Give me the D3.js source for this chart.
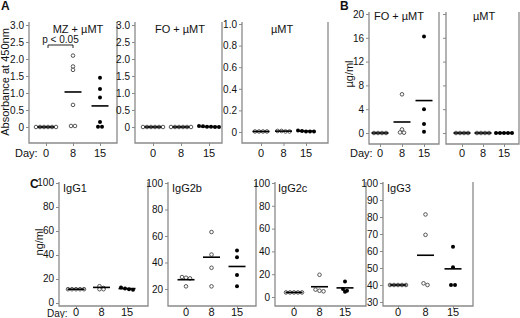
<!DOCTYPE html>
<html><head><meta charset="utf-8">
<script src="https://cdn.jsdelivr.net/npm/d3@7/dist/d3.min.js"></script>
<style>
body{margin:0;background:#fff}
svg{display:block}
text{font-family:"Liberation Sans",Arial,Helvetica,sans-serif;fill:#111}
</style>
</head><body>
<svg id="chart" width="520" height="318"></svg>
<script>
// ---------- data ----------
const days = ["0", "8", "15"];

// Panel A – absorbance at 450nm
const mzDay0 = [0, 0, 0, 0, 0, 0];
const mzDay8 = [2.1, 1.78, 1.68, 0.65, 0.03, 0.03];
const mzDay15 = [1.45, 1.12, 0.87, 0.15, 0.01, 0.01];
const mzMeans = [0, 1.03, 0.62];

const foADay0 = [0, 0, 0, 0, 0, 0];
const foADay8 = [0, 0, 0, 0, 0, 0];
const foADay15 = [0.01, 0.02, 0.03, 0.01, 0, 0];
const foAMeans = [0, 0, 0.01];

const mtADay0 = [0.005, 0.005, 0.005, 0.005];
const mtADay8 = [0.005, 0.01, 0.01, 0.005];
const mtADay15 = [0.005, 0.01, 0.015, 0.005, 0.005];
const mtAMeans = [0.005, 0.008, 0.008];

const absTicks = [0, 0.5, 1.0, 1.5, 2.0, 2.5, 3.0];
const absTickLabels = ["0", "0.5", "1.0", "1.5", "2.0", "2.5", "3.0"];
const mtATicks = [0, 0.2, 0.4, 0.6, 0.8, 1.0];
const mtATickLabels = ["0", "0.2", "0.4", "0.6", "0.8", "1.0"];

// Panel B – µg/ml
const foBDay0 = [0, 0, 0, 0];
const foBDay8 = [6.5, 0.6, 0.1, 0.05];
const foBDay15 = [16.2, 4.0, 1.5, 0.2];
const foBMeans = [0, 1.85, 5.45];

const mtBDay0 = [0, 0, 0, 0];
const mtBDay8 = [0, 0, 0, 0];
const mtBDay15 = [0, 0, 0, 0, 0];
const mtBMeans = [0, 0, 0];

const ugTicks = [0, 4, 8, 12, 16, 20];
const ugTickLabels = ["0", "4", "8", "12", "16", "20"];

// Panel C – ng/ml
const igg1Day0 = [11.5, 11.5, 11.5, 11.5, 11.5];
const igg1Day8 = [14, 12.5, 11.5, 11.5];
const igg1Day15 = [13, 12, 11.5, 11];
const igg1Means = [11.5, 13, 12];

const igg2bDay0 = [29, 28.5, 28, 22];
const igg2bDay8 = [63, 46, 36, 22];
const igg2bDay15 = [49, 44, 30.5, 22];
const igg2bMeans = [27, 44, 37];

const igg2cDay0 = [4, 4, 4, 4, 4];
const igg2cDay8 = [19.5, 6.5, 5.5, 5];
const igg2cDay15 = [13.5, 7, 5.5, 4.5];
const igg2cMeans = [4, 9, 8];

const igg3Day0 = [40, 40, 40, 40, 40];
const igg3Day8 = [81.5, 69.5, 41, 40];
const igg3Day15 = [62.5, 50.5, 40, 40];
const igg3Means = [40, 57.5, 49.5];

const ngTicks = [0, 20, 40, 60, 80, 100];
const ngTicks2b = [20, 40, 60, 80, 100];
const ngTicks3 = [30, 40, 50, 60, 70, 80, 90, 100];

const filledDay = [false, false, true];

// ---------- layout ----------
const panels = [
  {title: "MZ + µMT", tx: 78, ty: 33, anchor: "middle", left: 29, right: 117, top: 22, bottom: 143,
   domain: [0, 3], range: [127, 25], ticks: absTicks, labels: absTickLabels, xr: [46, 100], xlY: 157,
   data: [mzDay0, mzDay8, mzDay15], means: mzMeans, bracket: true},
  {title: "FO + µMT", tx: 180, ty: 33, anchor: "middle", left: 135, right: 222, top: 22, bottom: 143,
   domain: [0, 3], range: [127, 25], ticks: absTicks, labels: absTickLabels, xr: [153, 209], xlY: 157,
   data: [foADay0, foADay8, foADay15], means: foAMeans},
  {title: "µMT", tx: 282, ty: 33, anchor: "middle", left: 242, right: 328, top: 22, bottom: 143,
   domain: [0, 1], range: [132, 24], ticks: mtATicks, labels: mtATickLabels, xr: [261, 306], xlY: 157,
   data: [mtADay0, mtADay8, mtADay15], means: mtAMeans},
  {title: "FO + µMT", tx: 399, ty: 20, anchor: "middle", left: 369, right: 439, top: 12, bottom: 144,
   domain: [0, 20], range: [133, 14], ticks: ugTicks, labels: ugTickLabels, xr: [380, 424], xlY: 157,
   data: [foBDay0, foBDay8, foBDay15], means: foBMeans},
  {title: "µMT", tx: 484, ty: 20, anchor: "middle", left: 446, right: 519, top: 12, bottom: 144,
   domain: [0, 20], range: [133, 14], ticks: ugTicks, labels: null, xr: [462, 504], xlY: 157,
   data: [mtBDay0, mtBDay8, mtBDay15], means: mtBMeans},
  {title: "IgG1", tx: 63, ty: 192, anchor: "start", left: 59, right: 148, top: 182, bottom: 306,
   domain: [0, 100], range: [303, 183], ticks: ngTicks, labels: ngTicks.map(String), xr: [76, 127], xlY: 316, ldy: "0.2em",
   data: [igg1Day0, igg1Day8, igg1Day15], means: igg1Means},
  {title: "IgG2b", tx: 172, ty: 192, anchor: "start", left: 168, right: 256, top: 182, bottom: 306,
   domain: [0, 100], range: [315.5, 183], ticks: ngTicks2b, labels: ngTicks2b.map(String), xr: [186, 237], xlY: 316,
   data: [igg2bDay0, igg2bDay8, igg2bDay15], means: igg2bMeans},
  {title: "IgG2c", tx: 278, ty: 192, anchor: "start", left: 275, right: 366, top: 182, bottom: 306,
   domain: [0, 100], range: [297, 183], ticks: ngTicks, labels: ngTicks.map(String), xr: [294, 345], xlY: 316,
   data: [igg2cDay0, igg2cDay8, igg2cDay15], means: igg2cMeans},
  {title: "IgG3", tx: 387, ty: 192, anchor: "start", left: 383, right: 473, top: 182, bottom: 306,
   domain: [30, 100], range: [302, 183], ticks: ngTicks3, labels: ngTicks3.map(String), xr: [398, 453], xlY: 316,
   data: [igg3Day0, igg3Day8, igg3Day15], means: igg3Means}
];

const svg = d3.select("#chart");
const axisColor = "#8a8a8a";

// horizontal spread of points that share (nearly) the same y
function spread(ys) {
  const idx = ys.map((y, i) => i).sort((a, b) => ys[a] - ys[b]);
  const off = new Array(ys.length).fill(0);
  let g = [];
  const flush = () => {
    const n = g.length;
    g.forEach((k, j) => off[k] = (j - (n - 1) / 2) * 4);
    g = [];
  };
  idx.forEach(k => {
    if (g.length && Math.abs(ys[k] - ys[g[0]]) > 2.5) flush();
    g.push(k);
  });
  flush();
  return off;
}

panels.forEach(p => {
  const y = d3.scaleLinear().domain(p.domain).range(p.range);
  const x = d3.scalePoint().domain(days).range(p.xr);
  const g = svg.append("g");

  // frame: left axis, right edge, bottom
  g.append("path")
    .attr("d", `M${p.left},${p.top}V${p.bottom}H${p.right}V${p.top}`)
    .attr("fill", "none").attr("stroke", axisColor).attr("stroke-width", 1.3);

  // y axis ticks
  const yAxis = d3.axisLeft(y).tickValues(p.ticks).tickSize(3).tickPadding(2)
    .tickFormat((d, i) => p.labels ? p.labels[i] : "");
  const ya = g.append("g").attr("transform", `translate(${p.left},0)`).call(yAxis);
  ya.select(".domain").remove();
  ya.selectAll("line").attr("stroke", axisColor);
  ya.selectAll("text").style("font-size", "10px").attr("fill", "#111");
  if (p.ldy) ya.selectAll("text").attr("dy", p.ldy);

  // x axis ticks
  const xAxis = d3.axisBottom(x).tickSize(3).tickPadding(0).tickFormat("");
  const xa = g.append("g").attr("transform", `translate(0,${p.bottom})`).call(xAxis);
  xa.select(".domain").remove();
  xa.selectAll("line").attr("stroke", axisColor);
  g.selectAll(".xl").data(days).enter().append("text")
    .attr("x", d => x(d)).attr("y", p.xlY).attr("text-anchor", "middle")
    .style("font-size", "11px").text(d => d);

  // title
  g.append("text").attr("x", p.tx).attr("y", p.ty).attr("text-anchor", p.anchor)
    .style("font-size", "11px").text(p.title);

  // points
  p.data.forEach((vals, di) => {
    const ys = vals.map(v => y(v));
    const off = spread(ys);
    const cx = x(days[di]);
    g.selectAll(null).data(vals).enter().append("circle")
      .attr("cx", (v, i) => cx + off[i]).attr("cy", (v, i) => ys[i])
      .attr("r", filledDay[di] ? 2 : 1.8)
      .attr("fill", filledDay[di] ? "#000" : "#fff")
      .attr("stroke", filledDay[di] ? "#000" : "#444")
      .attr("stroke-width", filledDay[di] ? 0 : 0.9);
  });
  // means
  g.selectAll(null).data(p.means).enter().append("line")
    .attr("x1", (m, i) => x(days[i]) - 8.5).attr("x2", (m, i) => x(days[i]) + 8.5)
    .attr("y1", m => y(m)).attr("y2", m => y(m))
    .attr("stroke", "#000").attr("stroke-width", 1.6);

  if (p.bracket) {
    const x0 = x(days[0]) + 2, x1 = x(days[1]);
    g.append("path").attr("d", `M${x0},48V45H${x1}V48`)
      .attr("fill", "none").attr("stroke", "#222").attr("stroke-width", 1);
    g.append("text").attr("x", (x0 + x1) / 2).attr("y", 43).attr("text-anchor", "middle")
      .style("font-size", "10px").text("p < 0.05");
  }
});

// axis titles, panel letters, "Day:" labels
const labels = svg.append("g");
labels.append("text").attr("transform", "translate(9,82) rotate(-90)").attr("text-anchor", "middle")
  .style("font-size", "11px").text("Absorbance  at 450nm");
labels.append("text").attr("transform", "translate(353,74) rotate(-90)").attr("text-anchor", "middle")
  .style("font-size", "11px").text("µg/ml");
labels.append("text").attr("transform", "translate(43,242) rotate(-90)").attr("text-anchor", "middle")
  .style("font-size", "11px").text("ng/ml");

[["A", 1, 10], ["B", 340, 10], ["C", 30, 188]].forEach(([t, lx, ly]) => {
  labels.append("text").attr("x", lx).attr("y", ly).style("font-size", "12px")
    .style("font-weight", "bold").text(t);
});
[[15, 157, 11], [350, 157, 11], [47, 316.5, 10]].forEach(([lx, ly, fs]) => {
  labels.append("text").attr("x", lx).attr("y", ly).style("font-size", fs + "px").text("Day:");
});
</script>
</body></html>
